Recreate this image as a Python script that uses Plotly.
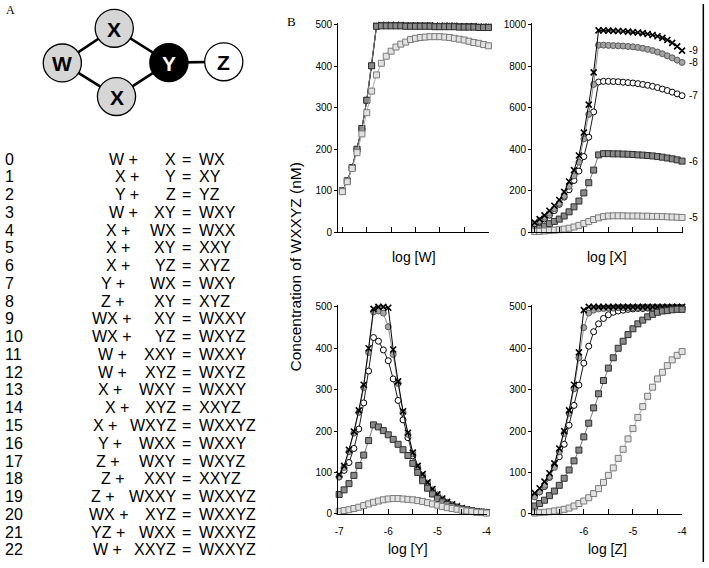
import plotly.graph_objects as go

# ---------------- data ----------------
log_conc = [-7.0, -6.9, -6.8, -6.7, -6.6, -6.5, -6.4, -6.3, -6.2, -6.1, -6.0,
            -5.9, -5.8, -5.7, -5.6, -5.5, -5.4, -5.3, -5.2, -5.1, -5.0,
            -4.9, -4.8, -4.7, -4.6, -4.5, -4.4, -4.3, -4.2, -4.1, -4.0]

series_labels = ["-7", "-8", "-9", "-6", "-5"]   # drawing order

# log [W] panel
w_m9 = [100, 124, 156, 200, 250, 318, 401, 497, 499, 499, 499, 499, 499, 498, 498, 498,
        498, 498, 498, 497, 497, 497, 497, 497, 496, 496, 496, 496, 495, 495, 495]
w_m8 = [100, 124, 156, 200, 250, 318, 401, 496, 498, 498, 498, 498, 498, 497, 497, 497,
        497, 497, 497, 496, 496, 496, 496, 496, 495, 495, 495, 495, 494, 494, 494]
w_m7 = [100, 124, 156, 200, 250, 318, 401, 496, 498, 498, 498, 498, 498, 497, 497, 497,
        497, 497, 497, 496, 496, 496, 496, 496, 495, 495, 495, 495, 494, 494, 494]
w_m6 = [100, 124, 156, 200, 250, 318, 401, 496, 497, 497, 497, 497, 497, 496, 496, 496,
        496, 496, 496, 495, 495, 495, 495, 495, 494, 494, 494, 494, 493, 493, 493]
w_m5 = [98, 122, 154, 192, 237, 288, 340, 379, 407, 424, 436, 446, 453, 458, 464, 467,
        469, 470, 471, 471, 471, 470, 469, 467, 465, 463, 460, 457, 455, 452, 449]

# log [X] panel
x_m9 = [47, 64, 82, 104, 128, 156, 195, 245, 300, 370, 480, 615, 770,
        972, 972, 971, 970, 969, 968, 966, 964, 962, 959, 955, 950, 944, 936, 926, 912, 895, 875]
x_m8 = [40, 56, 72, 92, 114, 140, 175, 222, 272, 338, 450, 568, 712,
        901, 901, 900, 899, 898, 897, 895, 893, 890, 886, 881, 875, 868, 860, 850, 840, 829, 818]
x_m7 = [38, 50, 65, 83, 105, 135, 170, 205, 250, 295, 365, 458, 580,
        724, 727, 727, 726, 725, 723, 721, 719, 716, 712, 708, 703, 697, 690, 683, 675, 667, 658]
x_m6 = [14, 20, 30, 42, 53, 64, 79, 99, 123, 151, 190, 239, 300,
        373, 379, 379, 378, 378, 377, 376, 375, 373, 372, 370, 368, 365, 362, 358, 354, 349, 343]
x_m5 = [4, 5, 7, 9, 11, 13, 16, 20, 26, 34, 43, 52, 62,
        70, 76, 79, 80, 80, 80, 79, 79, 79, 78, 78, 77, 77, 76, 75, 74, 73, 72]

# log [Y] panel
y_m9 = [95, 116, 155, 199, 250, 312, 400, 495, 500, 500, 498, 397, 320, 248, 196, 148,
        116, 96, 76, 60, 47, 37, 29, 23, 18, 14, 11, 8, 6, 5, 4]
y_m8 = [90, 112, 150, 195, 245, 305, 390, 488, 490, 485, 452, 385, 315, 245, 192, 145,
        113, 93, 74, 58, 46, 36, 28, 22, 17, 13, 10, 8, 6, 5, 4]
y_m7 = [89, 105, 124, 158, 205, 268, 345, 426, 417, 396, 370, 326, 274, 227, 184, 140,
        108, 89, 70, 55, 43, 34, 27, 21, 16, 12, 9, 7, 5, 4, 3]
y_m6 = [47, 58, 73, 93, 117, 142, 177, 215, 210, 201, 191, 180, 168, 155, 141, 122,
        100, 80, 62, 48, 37, 29, 23, 18, 14, 11, 9, 7, 5, 4, 3]
y_m5 = [6, 8, 10, 13, 16, 20, 24, 28, 31, 34, 36, 37, 37, 36, 35, 34,
        32, 30, 27, 24, 21, 18, 15, 13, 11, 9, 7, 6, 4, 3, 2]

# log [Z] panel
z_m9 = [50, 62, 78, 98, 122, 158, 200, 250, 312, 390, 492, 500, 500, 500, 500, 500,
        500, 500, 500, 500, 500, 500, 500, 500, 500, 500, 500, 500, 500, 500, 500]
z_m8 = [41, 53, 69, 90, 112, 150, 194, 243, 302, 377, 450, 485, 492, 495, 496, 497,
        497, 498, 498, 498, 498, 498, 499, 499, 499, 499, 499, 499, 499, 499, 499]
z_m7 = [43, 53, 66, 88, 115, 138, 168, 214, 262, 311, 364, 405, 440, 459, 472, 481,
        487, 490, 492, 494, 495, 496, 496, 497, 497, 497, 498, 498, 498, 498, 498]
z_m6 = [19, 25, 33, 44, 55, 69, 86, 106, 128, 154, 186, 219, 256, 290, 322, 352,
        377, 400, 417, 433, 447, 459, 468, 476, 482, 487, 490, 491, 493, 494, 494]
z_m5 = [2, 3, 4, 5, 7, 9, 11, 14, 19, 25, 31, 39, 49, 61, 76, 93,
        111, 134, 156, 181, 206, 233, 259, 284, 306, 326, 342, 358, 372, 383, 392]

x_tick_vals = [-7, -6.5, -6, -5.5, -5, -4.5, -4]
y_ticks_500 = [0, 100, 200, 300, 400, 500]
y_ticks_1000 = [0, 200, 400, 600, 800, 1000]
y_tick_text_y = ["-7", "", "-6", "", "-5", "", "-4"]
z_tick_text = ["", "", "-6", "", "-5", "", "-4"]

reaction_ids = [str(i) for i in range(23)]
reactant_a = ["W", "X", "Y", "W", "X", "X", "X", "Y", "Z", "WX", "WX", "W", "W", "X", "X",
              "X", "Y", "Z", "Z", "Z", "WX", "YZ", "W"]
reactant_b = ["X", "Y", "Z", "XY", "WX", "XY", "YZ", "WX", "XY", "XY", "YZ", "XXY", "XYZ",
              "WXY", "XYZ", "WXYZ", "WXX", "WXY", "XXY", "WXXY", "XYZ", "WXX", "XXYZ"]
products = ["WX", "XY", "YZ", "WXY", "WXX", "XXY", "XYZ", "WXY", "XYZ", "WXXY", "WXYZ",
            "WXXY", "WXYZ", "WXXY", "XXYZ", "WXXYZ", "WXXY", "WXYZ", "XXYZ", "WXXYZ",
            "WXXYZ", "WXXYZ", "WXXYZ"]

# ---------------- layout helpers ----------------
FW, FH = 709, 568


def px(xp):
    return xp / FW


def py(yp):
    return 1 - yp / FH


# right edge (px) of "A +" for each reaction line
plus_end = [137, 138, 138, 137, 128, 128, 128, 123, 123, 130, 130, 125, 125, 120, 127,
            115, 120, 118, 123, 113, 127, 123, 120]

STYLE = {
    "-5": dict(symbol="square", size=6, color="#e2e2e2", lcol="#7a7a7a", lw=1, line="#aaaaaa"),
    "-6": dict(symbol="square", size=6, color="#8a8a8a", lcol="#2e2e2e", lw=1, line="#7a7a7a"),
    "-7": dict(symbol="circle", size=6, color="#ffffff", lcol="#000000", lw=1, line="#1a1a1a"),
    "-8": dict(symbol="circle", size=6, color="#a4a4a4", lcol="#5a5a5a", lw=1, line="#8a8a8a"),
    "-9": dict(symbol="x-thin", size=6, color="#000000", lcol="#000000", lw=1.6, line="#000000"),
}

panels = [
    ("x", "y", {"-5": w_m5, "-6": w_m6, "-7": w_m7, "-8": w_m8, "-9": w_m9}),
    ("x2", "y2", {"-5": x_m5, "-6": x_m6, "-7": x_m7, "-8": x_m8, "-9": x_m9}),
    ("x3", "y3", {"-5": y_m5, "-6": y_m6, "-7": y_m7, "-8": y_m8, "-9": y_m9}),
    ("x4", "y4", {"-5": z_m5, "-6": z_m6, "-7": z_m7, "-8": z_m8, "-9": z_m9}),
]

fig = go.Figure()
for xa, ya, data in panels:
    for lab in series_labels:
        s = STYLE[lab]
        fig.add_trace(go.Scatter(
            x=log_conc, y=data[lab], mode="lines+markers",
            xaxis=xa, yaxis=ya, cliponaxis=False, showlegend=False, hoverinfo="skip",
            line=dict(color=s["line"], width=1),
            marker=dict(symbol=s["symbol"], size=s["size"], color=s["color"],
                        line=dict(color=s["lcol"], width=s["lw"])),
        ))

TICKFONT = dict(family="Liberation Sans", size=10, color="black")


def xaxis(dom, rng, anchor, text):
    return dict(domain=dom, range=rng, anchor=anchor, showline=True, linecolor="black",
                linewidth=1, ticks="inside", ticklen=5, tickwidth=1, tickcolor="black",
                tickmode="array", tickvals=x_tick_vals,
                ticktext=text if text else [""] * len(x_tick_vals),
                showticklabels=bool(text), showgrid=False, zeroline=False,
                tickfont=TICKFONT, fixedrange=True, ticklabelstandoff=8)


def yaxis(dom, rng, anchor, vals):
    return dict(domain=dom, range=rng, anchor=anchor, showline=True, linecolor="black",
                linewidth=1, ticks="outside", ticklen=3, tickwidth=1, tickcolor="black",
                tickmode="array", tickvals=vals, ticktext=[str(v) for v in vals],
                showgrid=False, zeroline=False, tickfont=TICKFONT, fixedrange=True)


top_dom = [py(232.5), py(19)]
bot_dom = [py(519), py(306.7)]

fig.update_layout(
    width=FW, height=FH, margin=dict(l=0, r=0, t=0, b=0, pad=0),
    paper_bgcolor="white", plot_bgcolor="white",
    font=dict(family="Liberation Sans", color="black"),
    xaxis=xaxis([px(339), px(492)], [-7.087, -3.98], "y", None),
    yaxis=yaxis(top_dom, [0, 504.7], "x", y_ticks_500),
    xaxis2=xaxis([px(535), px(688)], [-7.056, -3.976], "y2", None),
    yaxis2=yaxis(top_dom, [0, 1009.4], "x2", y_ticks_1000),
    xaxis3=xaxis([px(339), px(490)], [-7.02, -3.98], "y3", y_tick_text_y),
    yaxis3=yaxis(bot_dom, [0, 503.8], "x3", y_ticks_500),
    xaxis4=xaxis([px(535), px(687)], [-7.056, -3.996], "y4", z_tick_text),
    yaxis4=yaxis(bot_dom, [0, 503.8], "x4", y_ticks_500),
)

shapes = []
# scan border on the right
shapes.append(dict(type="line", xref="paper", yref="paper", x0=px(708.3), x1=px(708.3),
                   y0=0, y1=1, line=dict(color="black", width=1.5)))

# network diagram (panel A)
nodes = {"W": (60, 60), "Xt": (112.5, 24.7), "Xb": (114.8, 94.2), "Y": (167.8, 59.7), "Z": (223.3, 58.8)}
edges = [("W", "Xt"), ("W", "Xb"), ("Xt", "Y"), ("Xb", "Y"), ("Y", "Z")]
for a, b in edges:
    (x0, y0), (x1, y1) = nodes[a], nodes[b]
    shapes.append(dict(type="line", xref="paper", yref="paper", x0=px(x0), y0=py(y0),
                       x1=px(x1), y1=py(y1), line=dict(color="black", width=2.6)))
node_fill = {"W": "#d6d6d6", "Xt": "#d6d6d6", "Xb": "#d6d6d6", "Y": "#000000", "Z": "#ffffff"}
R = 19.3
for k, (cx, cy) in nodes.items():
    shapes.append(dict(type="circle", xref="paper", yref="paper",
                       x0=px(cx - R), x1=px(cx + R), y0=py(cy + R), y1=py(cy - R),
                       fillcolor=node_fill[k], line=dict(color="black", width=1.3)))
fig.update_layout(shapes=shapes)

ann = []
node_text = {"W": "W", "Xt": "X", "Xb": "X", "Y": "Y", "Z": "Z"}
for k, (cx, cy) in nodes.items():
    ann.append(dict(xref="paper", yref="paper", x=px(cx), y=py(cy + 1), text="<b>%s</b>" % node_text[k],
                    showarrow=False, xanchor="center", yanchor="middle",
                    font=dict(family="Liberation Sans", size=21,
                              color="white" if k == "Y" else "black")))

ann.append(dict(xref="paper", yref="paper", x=px(1), y=py(6.5), text="A", showarrow=False,
                xanchor="left", yanchor="middle", font=dict(family="Liberation Serif", size=12)))
ann.append(dict(xref="paper", yref="paper", x=px(285), y=py(17.5), text="B", showarrow=False,
                xanchor="left", yanchor="middle", font=dict(family="Liberation Serif", size=13)))

RFONT = dict(family="Liberation Sans", size=16, color="black")
for i in range(len(reaction_ids)):
    yc = py(158 + 18.07 * i)
    ann.append(dict(xref="paper", yref="paper", x=px(0.5), y=yc, text=reaction_ids[i],
                    showarrow=False, xanchor="left", yanchor="middle", font=RFONT))
    ann.append(dict(xref="paper", yref="paper", x=px(plus_end[i] + 2), y=yc,
                    text=reactant_a[i] + " +", showarrow=False, xanchor="right",
                    yanchor="middle", font=RFONT))
    ann.append(dict(xref="paper", yref="paper", x=px(177), y=yc, text=reactant_b[i],
                    showarrow=False, xanchor="right", yanchor="middle", font=RFONT))
    ann.append(dict(xref="paper", yref="paper", x=px(179), y=yc, text="=",
                    showarrow=False, xanchor="left", yanchor="middle", font=RFONT))
    ann.append(dict(xref="paper", yref="paper", x=px(196), y=yc, text=products[i],
                    showarrow=False, xanchor="left", yanchor="middle", font=RFONT))

TFONT = dict(family="Liberation Sans", size=14, color="black")
for txt, xc, yc in [("log [W]", 415.5, 258), ("log [X]", 611, 258),
                    ("log [Y]", 410, 555), ("log [Z]", 611, 555)]:
    ann.append(dict(xref="paper", yref="paper", x=px(xc), y=py(yc), text=txt, showarrow=False,
                    xanchor="center", yanchor="middle", font=TFONT))

ann.append(dict(xref="paper", yref="paper", x=px(296), y=py(267.5), text="Concentration of WXXYZ (nM)",
                textangle=-90, showarrow=False, xanchor="center", yanchor="middle",
                font=dict(family="Liberation Sans", size=15.5, color="black")))

# series labels at the right of the log [X] panel
x_panel = {"-5": x_m5, "-6": x_m6, "-7": x_m7, "-8": x_m8, "-9": x_m9}
for lab in ["-9", "-8", "-7", "-6", "-5"]:
    ann.append(dict(xref="x2", yref="y2", x=log_conc[-1], y=x_panel[lab][-1], text=lab,
                    showarrow=False, xanchor="left", yanchor="middle", xshift=5,
                    font=dict(family="Liberation Sans", size=10, color="black")))

fig.update_layout(annotations=ann)
fig.write_html("out.html", config={"displayModeBar": False},
               post_script="document.body.style.margin='0px';document.body.style.overflow='hidden';")
